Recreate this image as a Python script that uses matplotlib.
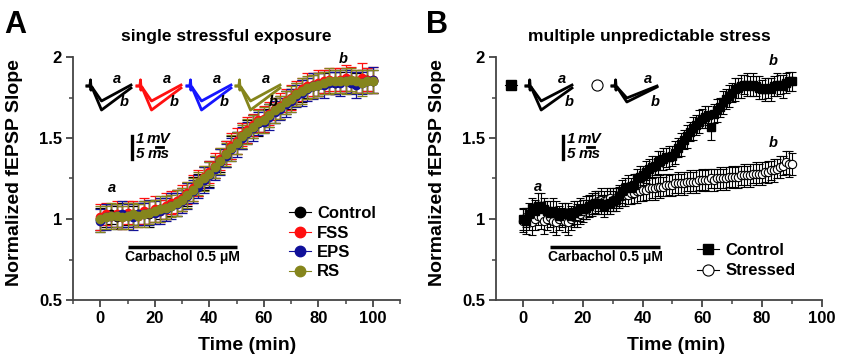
import matplotlib
matplotlib.use("Agg")
import matplotlib.pyplot as plt
from matplotlib.lines import Line2D
from matplotlib.ticker import MultipleLocator

plt.rcParams['font.family'] = ['Liberation Sans', 'DejaVu Sans']
plt.rcParams['font.weight'] = 'bold'

# ---------------- Panel A data (single stressful exposure) ----------------
time_a = [0, 2, 4, 6, 8, 10, 12, 14, 16, 18,
          20, 22, 24, 26, 28, 30, 32, 34, 36, 38,
          40, 42, 44, 46, 48, 50, 52, 54, 56, 58,
          60, 62, 64, 66, 68, 70, 72, 74, 76, 78,
          80, 82, 84, 86, 88, 90, 92, 94, 96, 98, 100]

ctrl_a = [1.00, 1.02, 1.03, 1.01, 1.02, 1.03, 1.02, 1.03, 1.04, 1.03,
          1.05, 1.06, 1.07, 1.09, 1.10, 1.12, 1.15, 1.18, 1.21, 1.25,
          1.28, 1.32, 1.36, 1.40, 1.44, 1.47, 1.51, 1.54, 1.57, 1.59,
          1.61, 1.64, 1.67, 1.69, 1.72, 1.74, 1.77, 1.79, 1.81, 1.82,
          1.83, 1.84, 1.85, 1.84, 1.85, 1.86, 1.85, 1.84, 1.85, 1.86, 1.85]
fss_a = [1.01, 1.03, 1.02, 1.03, 1.01, 1.04, 1.03, 1.02, 1.05, 1.04,
         1.06, 1.05, 1.08, 1.10, 1.11, 1.13, 1.16, 1.19, 1.22, 1.26,
         1.29, 1.33, 1.37, 1.41, 1.45, 1.48, 1.52, 1.55, 1.58, 1.61,
         1.62, 1.65, 1.68, 1.70, 1.73, 1.75, 1.78, 1.80, 1.82, 1.83,
         1.84, 1.85, 1.86, 1.85, 1.86, 1.87, 1.86, 1.85, 1.87, 1.86, 1.86]
eps_a = [0.99, 1.01, 1.02, 1.02, 1.03, 1.02, 1.01, 1.03, 1.03, 1.04,
         1.04, 1.05, 1.06, 1.08, 1.09, 1.11, 1.14, 1.17, 1.20, 1.24,
         1.27, 1.31, 1.35, 1.39, 1.43, 1.46, 1.50, 1.53, 1.56, 1.59,
         1.60, 1.63, 1.66, 1.68, 1.71, 1.73, 1.76, 1.78, 1.80, 1.82,
         1.83, 1.83, 1.84, 1.84, 1.84, 1.85, 1.84, 1.83, 1.84, 1.85, 1.86]
rs_a = [1.00, 1.01, 1.02, 1.02, 1.01, 1.02, 1.03, 1.02, 1.03, 1.04,
        1.05, 1.06, 1.07, 1.08, 1.10, 1.12, 1.15, 1.18, 1.22, 1.25,
        1.28, 1.32, 1.36, 1.40, 1.44, 1.47, 1.51, 1.54, 1.57, 1.60,
        1.61, 1.64, 1.67, 1.69, 1.72, 1.74, 1.77, 1.79, 1.81, 1.82,
        1.83, 1.84, 1.85, 1.85, 1.85, 1.85, 1.86, 1.85, 1.84, 1.85, 1.85]

err_ctrl_a = [0.07, 0.07, 0.06, 0.07, 0.08, 0.07, 0.06, 0.07, 0.07, 0.08,
              0.07, 0.06, 0.07, 0.07, 0.08, 0.07, 0.07, 0.08, 0.07, 0.07,
              0.08, 0.07, 0.07, 0.08, 0.07, 0.07, 0.08, 0.07, 0.07, 0.08,
              0.07, 0.07, 0.08, 0.07, 0.07, 0.06, 0.07, 0.07, 0.06, 0.07,
              0.07, 0.06, 0.07, 0.07, 0.06, 0.07, 0.07, 0.06, 0.07, 0.07, 0.07]
err_fss_a = [0.08, 0.07, 0.07, 0.08, 0.07, 0.07, 0.08, 0.07, 0.08, 0.07,
             0.08, 0.07, 0.08, 0.07, 0.07, 0.08, 0.07, 0.08, 0.08, 0.07,
             0.07, 0.08, 0.07, 0.07, 0.08, 0.08, 0.07, 0.08, 0.07, 0.07,
             0.08, 0.07, 0.07, 0.08, 0.07, 0.08, 0.07, 0.07, 0.08, 0.07,
             0.08, 0.07, 0.07, 0.08, 0.07, 0.08, 0.08, 0.07, 0.09, 0.07, 0.08]
err_eps_a = [0.07, 0.08, 0.07, 0.07, 0.08, 0.07, 0.08, 0.07, 0.07, 0.08,
             0.07, 0.08, 0.07, 0.08, 0.07, 0.07, 0.08, 0.07, 0.07, 0.08,
             0.08, 0.07, 0.08, 0.07, 0.07, 0.08, 0.07, 0.07, 0.08, 0.07,
             0.07, 0.08, 0.07, 0.07, 0.08, 0.07, 0.07, 0.08, 0.07, 0.08,
             0.07, 0.08, 0.07, 0.07, 0.08, 0.07, 0.07, 0.08, 0.07, 0.07, 0.08]
err_rs_a = [0.08, 0.07, 0.08, 0.07, 0.07, 0.08, 0.07, 0.07, 0.08, 0.07,
            0.07, 0.08, 0.07, 0.07, 0.08, 0.07, 0.08, 0.07, 0.07, 0.08,
            0.07, 0.07, 0.08, 0.07, 0.08, 0.07, 0.07, 0.08, 0.07, 0.07,
            0.08, 0.07, 0.08, 0.07, 0.07, 0.08, 0.07, 0.08, 0.07, 0.07,
            0.07, 0.07, 0.08, 0.07, 0.07, 0.08, 0.07, 0.07, 0.08, 0.07, 0.07]

labels_a = ["Control", "FSS", "EPS", "RS"]
colors_a = ["#000000", "#ff1010", "#10109a", "#85851c"]
trace_colors_a = ["#000000", "#ff1010", "#1515ff", "#85851c"]

# ---------------- Panel B data (multiple unpredictable stress) ----------------
time_b = [0, 1, 2, 3, 4, 5, 6, 7, 8, 9,
          10, 11, 12, 13, 14, 15, 16, 17, 18, 19,
          20, 21, 22, 23, 24, 25, 26, 27, 28, 29,
          30, 31, 32, 33, 34, 35, 36, 37, 38, 39,
          40, 41, 42, 43, 44, 45, 46, 47, 48, 49,
          50, 51, 52, 53, 54, 55, 56, 57, 58, 59,
          60, 61, 62, 63, 64, 65, 66, 67, 68, 69,
          70, 71, 72, 73, 74, 75, 76, 77, 78, 79,
          80, 81, 82, 83, 84, 85, 86, 87, 88, 89, 90]

ctrl_b = [1.00, 0.99, 1.03, 1.07, 1.05, 1.08, 1.08, 1.06, 1.05, 1.04,
          1.05, 1.04, 1.02, 1.03, 1.04, 1.03, 1.02, 1.04, 1.05, 1.06,
          1.06, 1.07, 1.08, 1.09, 1.10, 1.10, 1.09, 1.08, 1.09, 1.10,
          1.11, 1.12, 1.14, 1.17, 1.19, 1.20, 1.19, 1.21, 1.25, 1.26,
          1.27, 1.29, 1.31, 1.32, 1.33, 1.35, 1.36, 1.37, 1.38, 1.38,
          1.39, 1.41, 1.44, 1.46, 1.49, 1.51, 1.54, 1.56, 1.58, 1.60,
          1.62, 1.63, 1.64, 1.57, 1.65, 1.67, 1.69, 1.72, 1.74, 1.76,
          1.78, 1.80, 1.81, 1.82, 1.83, 1.83, 1.82, 1.83, 1.82, 1.81,
          1.80, 1.80, 1.81, 1.80, 1.82, 1.83, 1.83, 1.82, 1.84, 1.85, 1.85]
stress_b = [0.99, 1.01, 1.00, 0.98, 1.00, 1.02, 1.01, 0.99, 1.00, 1.01,
            0.99, 0.98, 1.00, 1.01, 0.99, 0.98, 1.00, 1.01, 1.02, 1.03,
            1.05, 1.06, 1.08, 1.09, 1.10, 1.11, 1.12, 1.11, 1.12, 1.13,
            1.12, 1.13, 1.14, 1.14, 1.15, 1.15, 1.16, 1.16, 1.17, 1.17,
            1.18, 1.18, 1.19, 1.19, 1.19, 1.20, 1.20, 1.20, 1.21, 1.21,
            1.21, 1.22, 1.22, 1.22, 1.22, 1.23, 1.23, 1.23, 1.23, 1.24,
            1.24, 1.24, 1.24, 1.25, 1.24, 1.25, 1.25, 1.25, 1.25, 1.26,
            1.26, 1.26, 1.26, 1.27, 1.27, 1.27, 1.27, 1.28, 1.28, 1.28,
            1.28, 1.29, 1.29, 1.30, 1.30, 1.31, 1.32, 1.33, 1.35, 1.34, 1.34]

err_ctrl_b = [0.07, 0.08, 0.07, 0.06, 0.07, 0.08, 0.08, 0.07, 0.06, 0.07,
              0.08, 0.07, 0.06, 0.07, 0.06, 0.07, 0.06, 0.07, 0.06, 0.07,
              0.06, 0.07, 0.06, 0.07, 0.06, 0.07, 0.06, 0.07, 0.06, 0.07,
              0.06, 0.07, 0.06, 0.07, 0.06, 0.07, 0.06, 0.07, 0.06, 0.07,
              0.06, 0.07, 0.06, 0.07, 0.06, 0.07, 0.06, 0.07, 0.06, 0.07,
              0.06, 0.07, 0.06, 0.07, 0.06, 0.07, 0.06, 0.07, 0.06, 0.07,
              0.06, 0.07, 0.06, 0.08, 0.06, 0.07, 0.06, 0.07, 0.06, 0.07,
              0.06, 0.07, 0.06, 0.07, 0.06, 0.07, 0.06, 0.07, 0.06, 0.07,
              0.06, 0.07, 0.06, 0.07, 0.06, 0.07, 0.06, 0.07, 0.06, 0.06, 0.06]
err_stress_b = [0.07, 0.06, 0.07, 0.08, 0.07, 0.06, 0.07, 0.08, 0.07, 0.06,
                0.07, 0.08, 0.07, 0.06, 0.07, 0.08, 0.07, 0.06, 0.07, 0.06,
                0.07, 0.06, 0.07, 0.06, 0.07, 0.06, 0.07, 0.06, 0.07, 0.06,
                0.07, 0.06, 0.07, 0.06, 0.07, 0.06, 0.07, 0.06, 0.07, 0.06,
                0.07, 0.06, 0.07, 0.06, 0.07, 0.06, 0.07, 0.06, 0.07, 0.06,
                0.07, 0.06, 0.07, 0.06, 0.07, 0.06, 0.07, 0.06, 0.07, 0.06,
                0.07, 0.06, 0.07, 0.06, 0.07, 0.06, 0.07, 0.06, 0.07, 0.06,
                0.07, 0.06, 0.07, 0.06, 0.07, 0.06, 0.07, 0.06, 0.07, 0.06,
                0.07, 0.06, 0.07, 0.06, 0.07, 0.06, 0.07, 0.06, 0.07, 0.08, 0.07]

# example fEPSP trace shapes (relative time, amplitude in px)
trace_t = [0.0, 0.07, 0.08, 0.09, 0.11, 0.33, 1.0]
trace_a_shape = [0, 0, 6, -4, -1, -15, 1]
trace_b_shape = [0, 0, 6, -4, -1, -24, -2]
trace_a_stress_shape = [0, 0, 6, -4, -1, -12, 0]
trace_b_stress_shape = [0, 0, 6, -4, -1, -16, -1]

W, H = 850, 361
fig = plt.figure(figsize=(8.5, 3.61), dpi=100)

spine_c = "#444444"


def style_axes(ax, xmin, xmax):
    ax.set_xlim(xmin, xmax)
    ax.set_ylim(0.5, 2.0)
    for s in ("top", "right"):
        ax.spines[s].set_visible(False)
    for s in ("left", "bottom"):
        ax.spines[s].set_color(spine_c)
        ax.spines[s].set_linewidth(1.3)
    ax.xaxis.set_major_locator(MultipleLocator(20))
    ax.xaxis.set_minor_locator(MultipleLocator(10))
    ax.yaxis.set_minor_locator(MultipleLocator(0.25))
    ax.tick_params(which="major", length=5, width=1.3, color=spine_c,
                   labelsize=12, pad=3)
    ax.tick_params(which="minor", length=3, width=1.1, color=spine_c)
    ax.set_yticks([0.5, 1, 1.5, 2])
    ax.set_yticklabels(["0.5", "1", "1.5", "2"])
    for lab in ax.get_xticklabels() + ax.get_yticklabels():
        lab.set_fontweight("bold")
    ax.patch.set_alpha(0)


# ---------------- Panel A ----------------
axA = fig.add_axes([73 / W, 1 - 300 / H, 327 / W, 243 / H])
style_axes(axA, -10, 110)
series_a = [ctrl_a, fss_a, eps_a, rs_a]
errs_a = [err_ctrl_a, err_fss_a, err_eps_a, err_rs_a]
for vals, errs, col in zip(series_a, errs_a, colors_a):
    axA.errorbar(time_a, vals, yerr=errs, fmt="o", color=col, ms=6,
                 mec=col, mfc=col, ecolor=col, elinewidth=0.9, capsize=3.5,
                 capthick=0.9)
axA.plot([10, 50], [0.83, 0.83], color="black", lw=2.5, solid_capstyle="butt")
axA.text(30, 0.765, "Carbachol 0.5 μM", ha="center", va="center",
         fontsize=10, fontweight="bold")
axA.text(4.3, 1.19, "a", ha="center", va="center", fontsize=10.5,
         fontstyle="italic", fontweight="bold")
axA.text(89, 1.985, "b", ha="center", va="center", fontsize=10.5,
         fontstyle="italic", fontweight="bold")
handles_a = [Line2D([], [], marker="o", color=c, ms=7.5, lw=0.8) for c in colors_a]
fig.legend(handles_a, labels_a, loc="upper left",
           bbox_to_anchor=(289 / W, 1 - 206 / H), frameon=False,
           prop={"size": 12, "weight": "bold"}, handlelength=1.3,
           handletextpad=0.4, labelspacing=0.27, borderpad=0,
           borderaxespad=0)

# ---------------- Panel B ----------------
axB = fig.add_axes([496 / W, 1 - 300 / H, 326 / W, 243 / H])
style_axes(axB, -9, 100)
axB.errorbar(time_b, stress_b, yerr=err_stress_b, fmt="o", color="black",
             ms=6, mfc="white", mec="black", mew=0.8, ecolor="black",
             elinewidth=0.8, capsize=3, capthick=0.8)
axB.errorbar(time_b, ctrl_b, yerr=err_ctrl_b, fmt="s", color="black",
             ms=5.5, mfc="black", mec="black", ecolor="black",
             elinewidth=0.8, capsize=3, capthick=0.8)
axB.plot([9, 46], [0.83, 0.83], color="black", lw=2.5, solid_capstyle="butt")
axB.text(27.5, 0.765, "Carbachol 0.5 μM", ha="center", va="center",
         fontsize=10, fontweight="bold")
axB.text(5.2, 1.2, "a", ha="center", va="center", fontsize=10.5,
         fontstyle="italic", fontweight="bold")
axB.text(83.6, 1.975, "b", ha="center", va="center", fontsize=10.5,
         fontstyle="italic", fontweight="bold")
axB.text(83.6, 1.47, "b", ha="center", va="center", fontsize=10.5,
         fontstyle="italic", fontweight="bold")
handles_b = [Line2D([], [], marker="s", color="black", ms=7, lw=0.8),
             Line2D([], [], marker="o", color="black", mfc="white", ms=8,
                    lw=0.8, mew=0.8)]
fig.legend(handles_b, ["Control", "Stressed"], loc="upper left",
           bbox_to_anchor=(697 / W, 1 - 243 / H), frameon=False,
           prop={"size": 12, "weight": "bold"}, handlelength=1.3,
           handletextpad=0.4, labelspacing=0.32, borderpad=0,
           borderaxespad=0)

# ---------------- Overlay (traces, scale bars, labels) ----------------
ov = fig.add_axes([0, 0, 1, 1])
ov.set_xlim(0, W)
ov.set_ylim(H, 0)
ov.axis("off")
ov.patch.set_alpha(0)


def draw_trace(x0, x1, ybase, shape_a, shape_b, col):
    xs = [x0 + t * (x1 - x0) for t in trace_t]
    ov.plot(xs, [ybase - v for v in shape_a], color=col, lw=2,
            solid_joinstyle="round")
    ov.plot(xs, [ybase - v for v in shape_b], color=col, lw=2,
            solid_joinstyle="round")


def ab_labels(xa, xb):
    ov.text(xa, 79, "a", ha="center", va="center", fontsize=10.5,
            fontstyle="italic", fontweight="bold")
    ov.text(xb, 102, "b", ha="center", va="center", fontsize=10.5,
            fontstyle="italic", fontweight="bold")


starts_a = [87, 137, 187, 236]
for x0, col in zip(starts_a, trace_colors_a):
    draw_trace(x0, x0 + 44, 86, trace_a_shape, trace_b_shape, col)
    ab_labels(x0 + 30, x0 + 37)

# Panel B traces
ov.plot([511], [85], marker="s", color="black", ms=7)
ov.plot([505, 517], [85, 85], color="black", lw=0.8)
draw_trace(526, 572, 86, trace_a_shape, trace_b_shape, "black")
ab_labels(562, 569)
ov.plot([597], [85], marker="o", mfc="white", mec="black", ms=8, mew=0.8)
draw_trace(612, 657, 86, trace_a_stress_shape, trace_b_stress_shape, "black")
ab_labels(648, 655)


def scale_bar(x):
    ov.plot([x, x], [136, 159], color="black", lw=2.4)
    ov.text(x + 4, 139, "1", ha="left", va="center", fontsize=11,
            fontstyle="italic", fontweight="bold")
    ov.text(x + 15, 139, "mV", ha="left", va="center", fontsize=11,
            fontstyle="italic", fontweight="bold")
    ov.plot([x + 24, x + 31], [147, 147], color="black", lw=2)
    ov.text(x + 4, 154.5, "5", ha="left", va="center", fontsize=11,
            fontstyle="italic", fontweight="bold")
    ov.text(x + 16, 154.5, "ms", ha="left", va="center", fontsize=11,
            fontstyle="italic", fontweight="bold")


scale_bar(132)
scale_bar(563)

# Titles, panel letters, axis labels
fig.text(226 / W, 1 - 36 / H, "single stressful exposure", ha="center",
         va="center", fontsize=12.5, fontweight="bold")
fig.text(649 / W, 1 - 36 / H, "multiple unpredictable stress", ha="center",
         va="center", fontsize=12.5, fontweight="bold")
fig.text(4 / W, 1 - 25 / H, "A", ha="left", va="center", fontsize=22,
         fontweight="bold")
fig.text(426 / W, 1 - 25 / H, "B", ha="left", va="center", fontsize=22,
         fontweight="bold")
for xc in (15, 438):
    fig.text(xc / W, 1 - 173 / H, "Normalized fEPSP Slope", rotation=90,
             ha="center", va="center", fontsize=14, fontweight="bold")
fig.text(247 / W, 1 - 346 / H, "Time (min)", ha="center", va="center",
         fontsize=14, fontweight="bold")
fig.text(676 / W, 1 - 346 / H, "Time (min)", ha="center", va="center",
         fontsize=14, fontweight="bold")

fig.savefig("out.png", dpi=100)
